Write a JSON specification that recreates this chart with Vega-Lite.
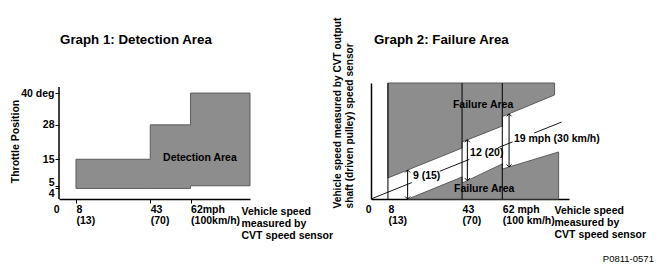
{
  "$schema": "https://vega.github.io/schema/vega-lite/v6.json",
  "background": "white",
  "padding": {"left": 10, "top": 17, "right": 0, "bottom": 0},
  "bounds": "flush",
  "spacing": 121,
  "config": {
    "font": "Liberation Sans",
    "view": {"stroke": null},
    "axis": {
      "labelFont": "Liberation Sans", "titleFont": "Liberation Sans",
      "labelFontSize": 10.5, "titleFontSize": 10.5,
      "labelFontWeight": "bold", "titleFontWeight": "bold",
      "labelColor": "black", "titleColor": "black",
      "domainColor": "black", "domainWidth": 1.5,
      "tickColor": "black", "tickWidth": 1,
      "grid": false, "labelOverlap": false, "labelFlush": false,
      "titleLineHeight": 12, "labelLineHeight": 11.5
    },
    "text": {"font": "Liberation Sans", "fontSize": 10.5, "fontWeight": "bold", "color": "black"}
  },
  "hconcat": [
    {
      "width": 191,
      "height": 116,
      "encoding": {
        "x": {
          "field": "x", "type": "quantitative",
          "scale": {"domain": [0, 90], "nice": false, "zero": false},
          "axis": {
            "values": [0, 8, 43, 62],
            "labelExpr": "datum.value == 0 ? '0' : datum.value == 8 ? ['8', '(13)'] : datum.value == 43 ? ['43', '(70)'] : ['62mph', '(100km/h)']",
            "labelAlign": {"condition": {"test": "datum.value == 0", "value": "right"}, "value": "left"},
            "labelDx": -3,
            "labelBaseline": "top",
            "labelPadding": 1,
            "tickSize": 4,
            "tickOpacity": {"condition": {"test": "datum.value == 0", "value": 0}, "value": 1},
            "title": ["Vehicle speed", "measured by", "CVT speed sensor"],
            "titleX": 182, "titleY": 15, "titleAlign": "left", "titleBaseline": "alphabetic", "titleAngle": 0
          }
        },
        "y": {
          "field": "y", "type": "quantitative",
          "scale": {"domain": [0, 43.8], "nice": false, "zero": false},
          "axis": {
            "values": [4, 5, 15, 28, 40],
            "labelExpr": "datum.value == 40 ? '40 deg' : datum.label",
            "domain": false,
            "tickSize": 4,
            "labelPadding": 1,
            "labelBaseline": {"condition": [{"test": "datum.value == 5", "value": "alphabetic"}, {"test": "datum.value == 4", "value": "top"}], "value": "middle"},
            "title": "Throttle Position",
            "titleAngle": 270, "titleX": -44, "titleY": 58, "titleAlign": "center", "titleBaseline": "middle"
          }
        }
      },
      "layer": [
        {
          "data": {"values": [
            {"x": 8, "y": 4, "y2": 15},
            {"x": 43, "y": 4, "y2": 15},
            {"x": 43, "y": 4, "y2": 28},
            {"x": 62, "y": 4, "y2": 28},
            {"x": 62, "y": 5, "y2": 40},
            {"x": 90, "y": 5, "y2": 40}
          ]},
          "mark": {"type": "area", "fill": "#8d8d8d", "stroke": "#5c5c5c", "strokeWidth": 1},
          "encoding": {"y2": {"field": "y2"}}
        },
        {
          "data": {"values": [{"x": 0, "y": 0, "y2": 42.3}]},
          "mark": {"type": "rule", "color": "black", "strokeWidth": 1.5},
          "encoding": {"y2": {"field": "y2"}}
        },
        {
          "data": {"values": [{"x": 66.4, "y": 15.5, "label": "Detection Area"}]},
          "mark": {"type": "text", "align": "center", "baseline": "middle"},
          "encoding": {"text": {"field": "label"}}
        },
        {
          "data": {"values": [{"x": 0.5, "y": 58.5, "label": "Graph 1: Detection Area"}]},
          "mark": {"type": "text", "align": "left", "baseline": "alphabetic", "fontSize": 13.3},
          "encoding": {"text": {"field": "label"}}
        }
      ]
    },
    {
      "width": 198,
      "height": 116,
      "encoding": {
        "x": {
          "field": "x", "type": "quantitative",
          "scale": {"domain": [0, 93.5], "nice": false, "zero": false},
          "axis": {
            "values": [0, 8, 43, 62],
            "labelExpr": "datum.value == 0 ? '0' : datum.value == 8 ? ['8', '(13)'] : datum.value == 43 ? ['43', '(70)'] : ['62 mph', '(100 km/h)']",
            "labelAlign": {"condition": {"test": "datum.value == 0", "value": "right"}, "value": "left"},
            "labelDx": -3,
            "labelBaseline": "top",
            "labelPadding": 5,
            "ticks": false,
            "tickSize": 0,
            "title": ["Vehicle speed", "measured by", "CVT speed sensor"],
            "titleX": 183, "titleY": 14, "titleAlign": "left", "titleBaseline": "alphabetic", "titleAngle": 0
          }
        },
        "y": {
          "field": "y", "type": "quantitative",
          "scale": {"domain": [0, 38], "nice": false, "zero": false},
          "axis": {
            "labels": false, "ticks": false, "tickSize": 0,
            "title": ["Vehicle speed measured by CVT output", "shaft (driven pulley) speed sensor"],
            "titleFontSize": 10.2,
            "titleAngle": 270, "titleX": -38.5, "titleY": 125, "titleAlign": "left", "titleBaseline": "top"
          }
        }
      },
      "layer": [
        {
          "data": {"values": [
            {"x": 8, "y": 6.9, "y2": 38},
            {"x": 43, "y": 16.7, "y2": 38},
            {"x": 43, "y": 18.7, "y2": 38},
            {"x": 62, "y": 23.9, "y2": 38},
            {"x": 62, "y": 27.0, "y2": 38},
            {"x": 86.7, "y": 34.1, "y2": 38}
          ]},
          "mark": {"type": "area", "fill": "#8d8d8d", "stroke": "#5c5c5c", "strokeWidth": 1},
          "encoding": {"y2": {"field": "y2"}}
        },
        {
          "data": {"values": [
            {"x": 17.5, "y": 0, "y2": 0},
            {"x": 43, "y": 7.2, "y2": 0},
            {"x": 43, "y": 5.2, "y2": 0},
            {"x": 62, "y": 11.5, "y2": 0},
            {"x": 62, "y": 9.8, "y2": 0},
            {"x": 88.6, "y": 15.4, "y2": 0}
          ]},
          "mark": {"type": "area", "fill": "#8d8d8d", "stroke": "#5c5c5c", "strokeWidth": 1},
          "encoding": {"y2": {"field": "y2"}}
        },
        {
          "data": {"values": [
            {"x": 8, "y": 0, "y2": 38},
            {"x": 43, "y": 0, "y2": 38},
            {"x": 62, "y": 0, "y2": 38}
          ]},
          "mark": {"type": "rule", "color": "black", "strokeWidth": 1},
          "encoding": {"y2": {"field": "y2"}}
        },
        {
          "data": {"values": [
            {"x": 0, "y": 0, "seg": "a"},
            {"x": 19.3, "y": 5.4, "seg": "a"},
            {"x": 32.5, "y": 9.1, "seg": "b"},
            {"x": 46.5, "y": 13.0, "seg": "b"},
            {"x": 60, "y": 16.8, "seg": "c"},
            {"x": 66.8, "y": 18.7, "seg": "c"},
            {"x": 77, "y": 21.6, "seg": "d"},
            {"x": 90, "y": 25.2, "seg": "d"}
          ]},
          "mark": {"type": "line", "color": "black", "strokeWidth": 0.9},
          "encoding": {"detail": {"field": "seg"}}
        },
        {
          "data": {"values": [
            {"x": 17.3, "y": 0, "y2": 9.5},
            {"x": 45.5, "y": 6.0, "y2": 19.4},
            {"x": 65.2, "y": 10.5, "y2": 27.9}
          ]},
          "mark": {"type": "rule", "color": "black", "strokeWidth": 1},
          "encoding": {"y2": {"field": "y2"}}
        },
        {
          "data": {"values": [
            {"x": 17.3, "y": 9.5},
            {"x": 45.5, "y": 19.4},
            {"x": 65.2, "y": 27.9}
          ]},
          "mark": {"type": "point", "shape": "M-1,1L0,0L1,1", "size": 25, "filled": false, "color": "black", "strokeWidth": 1, "opacity": 1}
        },
        {
          "data": {"values": [
            {"x": 17.3, "y": 0},
            {"x": 45.5, "y": 6.0},
            {"x": 65.2, "y": 10.5}
          ]},
          "mark": {"type": "point", "shape": "M-1,-1L0,0L1,-1", "size": 25, "filled": false, "color": "black", "strokeWidth": 1, "opacity": 1}
        },
        {
          "data": {"values": [
            {"x": 38.7, "y": 30.8, "label": "Failure Area"},
            {"x": 39.2, "y": 3.2, "label": "Failure Area"},
            {"x": 19.8, "y": 7.5, "label": "9 (15)"},
            {"x": 46.8, "y": 15.1, "label": "12 (20)"},
            {"x": 67.5, "y": 19.8, "label": "19 mph (30 km/h)"}
          ]},
          "mark": {"type": "text", "align": "left", "baseline": "middle"},
          "encoding": {"text": {"field": "label"}}
        },
        {
          "data": {"values": [{"x": 1.4, "y": 50.8, "label": "Graph 2: Failure Area"}]},
          "mark": {"type": "text", "align": "left", "baseline": "alphabetic", "fontSize": 13.3},
          "encoding": {"text": {"field": "label"}}
        },
        {
          "data": {"values": [{"x": 133.6, "y": -19.5, "label": "P0811-0571"}]},
          "mark": {"type": "text", "align": "right", "baseline": "middle", "fontWeight": "normal", "fontSize": 9.5},
          "encoding": {"text": {"field": "label"}}
        }
      ]
    }
  ]
}
